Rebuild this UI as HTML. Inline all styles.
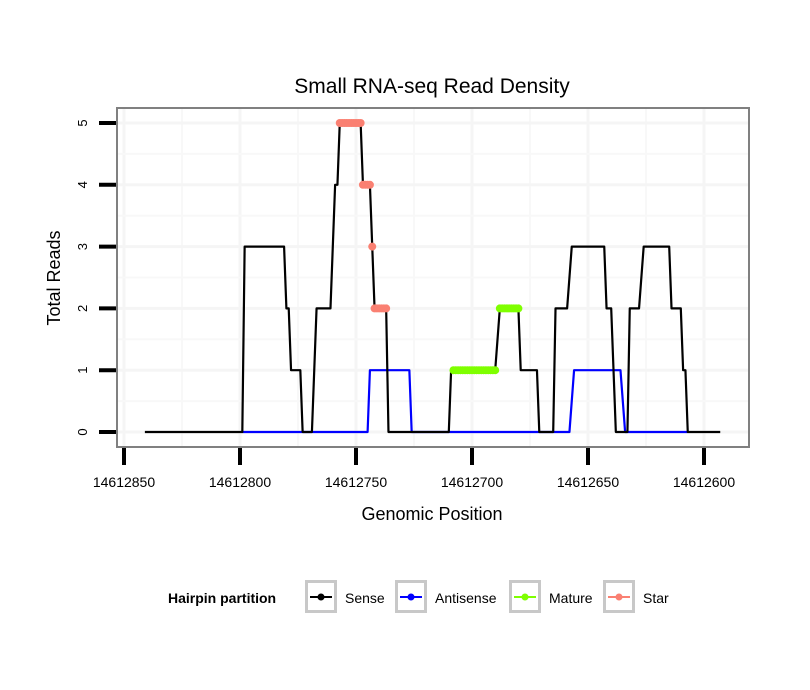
<!DOCTYPE html>
<html><head><meta charset="utf-8"><style>
body{margin:0;background:#fff;}
svg{display:block;font-family:"Liberation Sans",sans-serif;}
</style></head><body>
<svg id="chart" width="810" height="690">
<text x="432" y="93" text-anchor="middle" font-size="21">Small RNA-seq Read Density</text>
<rect x="117" y="108" width="632" height="339" fill="#fff"/>
<g id="grid"></g>
<g id="series"></g>
<rect x="117" y="108" width="632" height="339" fill="none" stroke="#808080" stroke-width="2"/>
<g id="axes"></g>
<text x="432" y="520" text-anchor="middle" font-size="18">Genomic Position</text>
<text transform="translate(60,278) rotate(-90)" text-anchor="middle" font-size="18">Total Reads</text>
<g>
<text x="168" y="603" font-size="14" font-weight="bold">Hairpin partition</text>
<g id="legend"></g>
</g>
</svg>
<script>
const xTicks=[14612850,14612800,14612750,14612700,14612650,14612600];
const yTicks=[0,1,2,3,4,5];
const sensePos=[14612841,14612799,14612798,14612781,14612780,14612779,14612778,14612774,14612773,14612769,14612767,14612761,14612759,14612758,14612757,14612748,14612747,14612744,14612742,14612737,14612736,14612710,14612709,14612690,14612688,14612680,14612679,14612672,14612671,14612665,14612664,14612659,14612657,14612643,14612642,14612640,14612638,14612633,14612632,14612628,14612626,14612615,14612614,14612610,14612609,14612608,14612607,14612593];
const senseVal=[0,0,3,3,2,2,1,1,0,0,2,2,4,4,5,5,4,4,2,2,0,0,1,1,2,2,1,1,0,0,2,2,3,3,2,2,0,0,2,2,3,3,2,2,1,1,0,0];
const antiPos=[14612799,14612745,14612744,14612727,14612726,14612658,14612656,14612636,14612634,14612607];
const antiVal=[0,0,1,1,0,0,1,1,0,0];
const starPos=[14612757,14612756,14612755,14612754,14612753,14612752,14612751,14612750,14612749,14612748,14612747,14612746,14612745,14612744,14612743,14612742,14612741,14612740,14612739,14612738,14612737];
const starVal=[5,5,5,5,5,5,5,5,5,5,4,4,4,4,3,2,2,2,2,2,2];
const matPos=[14612708,14612707,14612706,14612705,14612704,14612703,14612702,14612701,14612700,14612699,14612698,14612697,14612696,14612695,14612694,14612693,14612692,14612691,14612690,14612688,14612687,14612686,14612685,14612684,14612683,14612682,14612681,14612680];
const matVal=[1,1,1,1,1,1,1,1,1,1,1,1,1,1,1,1,1,1,1,2,2,2,2,2,2,2,2,2];
const legendLabels=["Sense","Antisense","Mature","Star"];
const legendColors=["#000000","#0000ff","#7fff00","#fa8072"];

const NS="http://www.w3.org/2000/svg";
const X=v=>124+(14612850-v)*2.32;
const Y=v=>432-v*61.8;
function mk(tag,attrs,parent){const e=document.createElementNS(NS,tag);for(const k in attrs)e.setAttribute(k,attrs[k]);parent.appendChild(e);return e;}
const grid=document.getElementById('grid'),axes=document.getElementById('axes'),ser=document.getElementById('series'),leg=document.getElementById('legend');
for(let i=0;i<xTicks.length;i++){
  const gx=X(xTicks[i]);
  if(gx>118&&gx<748){const l=mk('line',{x1:gx,x2:gx,y1:109,y2:446,stroke:'#f5f5f5','stroke-width':3},grid);
  
  }
  const mx=X(xTicks[i]-25);
  if(mx>118&&mx<748){const m=mk('line',{x1:mx,x2:mx,y1:109,y2:446,stroke:'#f8f8f8','stroke-width':2},grid);
  
  }
  const t=mk('line',{x1:gx,x2:gx,y1:448,y2:465,stroke:'#000','stroke-width':4},axes);
  
  
  const tl=mk('text',{x:gx,y:487,'text-anchor':'middle','font-size':14},axes);
  tl.textContent=xTicks[i];
  
  
}
for(let i=0;i<yTicks.length;i++){
  const gy=Y(yTicks[i]);
  const l=mk('line',{x1:118,x2:748,y1:gy,y2:gy,stroke:'#f5f5f5','stroke-width':3},grid);
  
  
  const my=Y(yTicks[i]+0.5);
  if(my>109){const m=mk('line',{x1:118,x2:748,y1:my,y2:my,stroke:'#f8f8f8','stroke-width':2},grid);
  
  }
  const t=mk('line',{x1:99,x2:116,y1:gy,y2:gy,stroke:'#000','stroke-width':4},axes);
  
  
  const tl=mk('text',{transform:`translate(87,${gy}) rotate(-90)`,'text-anchor':'middle','font-size':13},axes);
  tl.textContent=yTicks[i];
  
  
}
function line(pos,val,color,name){
  const p=mk('polyline',{points:pos.map((v,i)=>X(v)+','+Y(val[i])).join(' '),fill:'none',stroke:color,'stroke-width':2.2,'stroke-linejoin':'round'},ser);
  
  
}
function dots(pos,val,color,name){
  for(let i=0;i<pos.length;i++){
    const c=mk('circle',{cx:X(pos[i]),cy:Y(val[i]),r:4,fill:color},ser);
    
    
  }
}
line(antiPos,antiVal,'#0000ff','antisense-line');
line(sensePos,senseVal,'#000000','sense-line');
dots(matPos,matVal,'#7fff00','mature-point');
dots(starPos,starVal,'#fa8072','star-point');
const bx=[305,395,509,603];
for(let i=0;i<legendLabels.length;i++){
  const g=mk('g',{},leg);
  
  
  mk('rect',{x:bx[i]+1.5,y:581.5,width:29,height:30,fill:'#fff',stroke:'#c8c8c8','stroke-width':3},g);
  mk('line',{x1:bx[i]+5,x2:bx[i]+27,y1:597,y2:597,stroke:legendColors[i],'stroke-width':2},g);
  mk('circle',{cx:bx[i]+16,cy:597,r:3.5,fill:legendColors[i]},g);
  const t=mk('text',{x:bx[i]+40,y:603,'font-size':14},g);
  t.textContent=legendLabels[i];
}
</script>
</body></html>
